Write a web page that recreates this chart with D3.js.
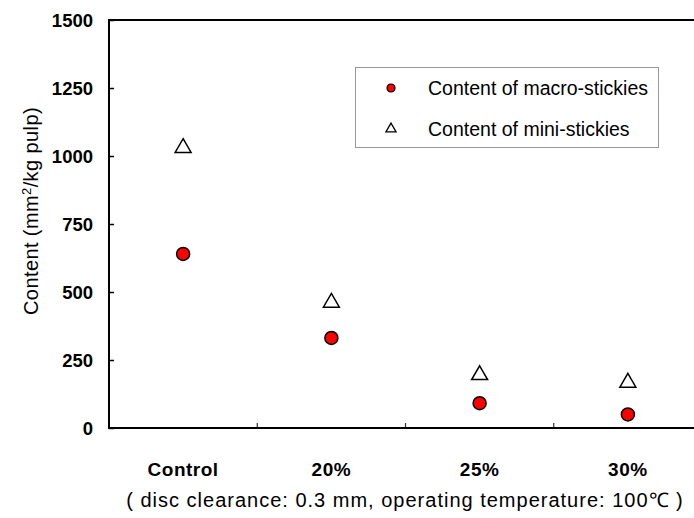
<!DOCTYPE html>
<html>
<head>
<meta charset="utf-8">
<script src="https://cdn.jsdelivr.net/npm/d3@7"></script>
<style>
  body { margin: 0; background: #fff; }
  svg { display: block; font-family: "Liberation Sans", Arial, sans-serif; }
</style>
</head>
<body>
<svg id="chart" width="694" height="518"></svg>
<script>
// data
var categories = ['Control', '20%', '25%', '30%'];
var macroStickies = [640, 331, 91, 50];
var miniStickies = [1030, 461, 195, 167];
var yTicks = [0, 250, 500, 750, 1000, 1250, 1500];
var seriesNames = ['Content of macro-stickies', 'Content of mini-stickies'];

var svg = d3.select('#chart');

// plot box (right edge runs off the picture, like the original)
var plotLeft = 109, plotTop = 20, plotBottom = 428, plotRight = 702;

var x = d3.scaleBand().domain(categories).range([plotLeft, plotRight]);
var y = d3.scaleLinear().domain([0, 1500]).range([plotBottom, plotTop]);

// frame: top line and left/bottom axes
svg.append('line')
  .attr('x1', plotLeft).attr('x2', plotRight)
  .attr('y1', plotTop).attr('y2', plotTop)
  .attr('stroke', '#000').attr('stroke-width', 2);

var yAxis = svg.append('g')
  .attr('transform', 'translate(' + plotLeft + ',0)')
  .call(d3.axisRight(y).tickValues(yTicks).tickSize(5).tickFormat(''));
yAxis.select('.domain').remove();
yAxis.selectAll('.tick line').attr('stroke', '#000').attr('stroke-width', 1.5);

svg.selectAll('.ylab')
  .data(yTicks)
  .enter().append('text')
  .attr('class', 'ylab')
  .attr('x', 93)
  .attr('y', function(d) { return y(d); })
  .attr('dy', '0.36em')
  .attr('text-anchor', 'end')
  .style('font-size', '18.5px')
  .style('font-weight', 'bold')
  .text(function(d) { return d; });

// x ticks sit on the band boundaries, pointing up
var bounds = categories.slice(1).map(function(c) { return x(c); });
svg.selectAll('.xtick')
  .data(bounds)
  .enter().append('line')
  .attr('class', 'xtick')
  .attr('x1', function(d) { return d; }).attr('x2', function(d) { return d; })
  .attr('y1', plotBottom).attr('y2', plotBottom - 5)
  .attr('stroke', '#333').attr('stroke-width', 1.2);

svg.append('line')
  .attr('x1', plotLeft).attr('x2', plotLeft)
  .attr('y1', plotTop - 1).attr('y2', plotBottom + 1)
  .attr('stroke', '#000').attr('stroke-width', 2);
svg.append('line')
  .attr('x1', plotLeft - 1).attr('x2', plotRight)
  .attr('y1', plotBottom).attr('y2', plotBottom)
  .attr('stroke', '#000').attr('stroke-width', 2);

var xc = function(c) { return x(c) + x.bandwidth() / 2; };

svg.selectAll('.xlab')
  .data(categories)
  .enter().append('text')
  .attr('class', 'xlab')
  .attr('x', function(d) { return xc(d); })
  .attr('y', 469)
  .attr('dy', '0.36em')
  .attr('text-anchor', 'middle')
  .style('font-size', '19px')
  .style('font-weight', 'bold')
  .style('letter-spacing', '0.5px')
  .text(function(d) { return d; });

// y title
var yt = svg.append('text')
  .attr('transform', 'translate(38,211) rotate(-90)')
  .attr('text-anchor', 'middle')
  .style('font-size', '20px')
  .style('letter-spacing', '0.4px');
yt.append('tspan').text('Content  (mm');
yt.append('tspan').attr('baseline-shift', 'super').style('font-size', '13px').text('2');
yt.append('tspan').text('/kg pulp)');

svg.append('text')
  .attr('x', 405).attr('y', 500)
  .attr('dy', '0.36em')
  .attr('text-anchor', 'middle')
  .style('font-size', '20px')
  .style('letter-spacing', '1px')
  .text('( disc clearance: 0.3 mm, operating temperature: 100\u2103 )');

// markers
var tri = d3.symbol().type(d3.symbolTriangle);

svg.selectAll('.mini')
  .data(miniStickies)
  .enter().append('path')
  .attr('class', 'mini')
  .attr('d', tri.size(110)())
  .attr('transform', function(d, i) { return 'translate(' + xc(categories[i]) + ',' + y(d) + ')'; })
  .attr('fill', '#fff').attr('stroke', '#000').attr('stroke-width', 1.5);

svg.selectAll('.macro')
  .data(macroStickies)
  .enter().append('circle')
  .attr('class', 'macro')
  .attr('cx', function(d, i) { return xc(categories[i]); })
  .attr('cy', function(d) { return y(d); })
  .attr('r', 6.5)
  .attr('fill', '#f00').attr('stroke', '#000').attr('stroke-width', 1.5);

// legend
var legend = svg.append('g');
legend.append('rect')
  .attr('x', 355.5).attr('y', 67.5)
  .attr('width', 303).attr('height', 80)
  .attr('fill', '#fff').attr('stroke', '#999');

var rows = legend.selectAll('.row')
  .data(seriesNames)
  .enter().append('g')
  .attr('transform', function(d, i) { return 'translate(391,' + (88 + i * 41) + ')'; });

rows.filter(function(d, i) { return i === 0; })
  .append('circle')
  .attr('r', 4).attr('fill', '#f00').attr('stroke', '#000').attr('stroke-width', 1.2);
rows.filter(function(d, i) { return i === 1; })
  .append('path')
  .attr('d', tri.size(45)())
  .attr('fill', '#fff').attr('stroke', '#000').attr('stroke-width', 1.3);

rows.append('text')
  .attr('x', 37)
  .attr('dy', '0.36em')
  .style('font-size', '19.5px')
  .text(function(d) { return d; });
</script>
</body>
</html>
